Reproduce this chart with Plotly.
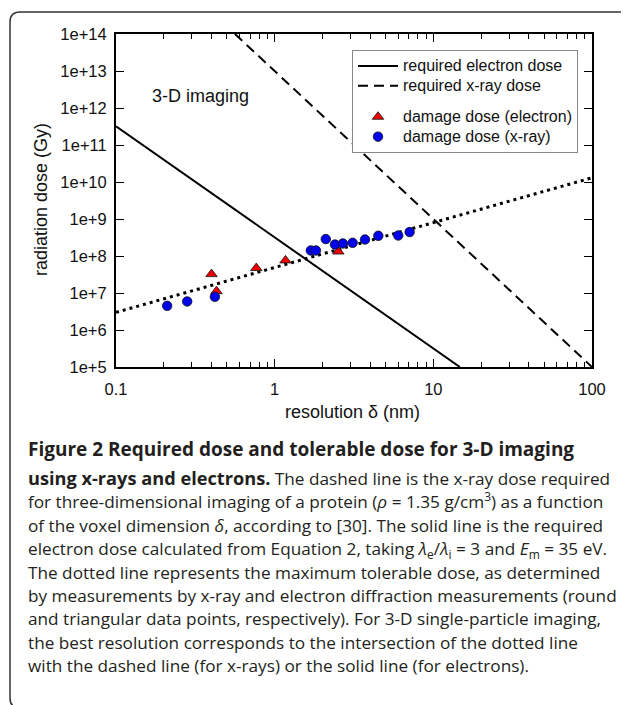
import plotly.graph_objects as go

# ---------------- data ----------------
electron_req_x = [0.1, 14.7]
electron_req_y = [3.2e11, 1e5]
xray_req_x = [0.562, 100]
xray_req_y = [1e14, 1e5]
tolerable_x = [0.1, 100]
tolerable_y = [3.0e6, 1.3e10]

electron_dmg_x = [0.40, 0.43, 0.766, 1.17, 2.52]
electron_dmg_y = [3.24e7, 1.12e7, 4.72e7, 7.6e7, 1.32e8]

xray_dmg_x = [0.21, 0.281, 0.42, 1.69, 1.82, 2.10, 2.40, 2.69, 3.10, 3.71, 4.50, 6.01, 7.09]
xray_dmg_y = [4.5e6, 5.9e6, 7.9e6, 1.41e8, 1.41e8, 2.86e8, 2.04e8, 2.18e8, 2.27e8, 2.79e8, 3.52e8, 3.58e8, 4.43e8]

y_tickvals = [1e5, 1e6, 1e7, 1e8, 1e9, 1e10, 1e11, 1e12, 1e13, 1e14]
y_ticktext = ["1e+5", "1e+6", "1e+7", "1e+8", "1e+9", "1e+10", "1e+11", "1e+12", "1e+13", "1e+14"]
x_tickvals = [0.1, 1, 10, 100]
x_ticktext = ["0.1", "1", "10", "100"]
x_minor = [k * 10.0 ** d for d in (-1, 0, 1) for k in range(2, 10)]

legend_names = ["required electron dose", "required x-ray dose",
                "damage dose (electron)", "damage dose (x-ray)"]

caption_title = "Figure 2 Required dose and tolerable dose for 3-D imaging"
caption_lines = [
    "<b><span style='font-size:18.2px'>using x-rays and electrons.</span></b> The dashed line is the x-ray dose required",
    "for three-dimensional imaging of a protein (<i>ρ</i> = 1.35 g/cm<sup>3</sup>) as a function",
    "of the voxel dimension <i>δ</i>, according to [30]. The solid line is the required",
    "electron dose calculated from Equation 2, taking <i>λ</i><sub>e</sub>/<i>λ</i><sub>i</sub> = 3 and <i>E</i><sub>m</sub> = 35 eV.",
    "The dotted line represents the maximum tolerable dose, as determined",
    "by measurements by x-ray and electron diffraction measurements (round",
    "and triangular data points, respectively). For 3-D single-particle imaging,",
    "the best resolution corresponds to the intersection of the dotted line",
    "with the dashed line (for x-rays) or the solid line (for electrons).",
]

# ---------------- layout geometry (page pixels) ----------------
W, H = 629, 705
OFF = 8  # body margin of the html page
L, R, T, B = 116, 592, 34, 367
pw, ph = R - L, B - T


def px(x):
    return (x - L) / pw


def py(y):
    return (B - y) / ph


AX_FONT = "Liberation Sans, Arial, sans-serif"
CAP_FONT = "Open Sans, Noto Sans, sans-serif"


def lg(name):
    return f"<span style='font-size:16px'>{name}</span>"


fig = go.Figure()

fig.add_trace(go.Scatter(
    x=electron_req_x, y=electron_req_y, mode="lines",
    line=dict(color="black", width=2),
    name=lg(legend_names[0]), legendgroup="req", legendrank=1,
))
fig.add_trace(go.Scatter(
    x=xray_req_x, y=xray_req_y, mode="lines",
    line=dict(color="black", width=2, dash="10px,6px"),
    name=lg(legend_names[1]), legendgroup="req", legendrank=2,
))
fig.add_trace(go.Scatter(
    x=tolerable_x, y=tolerable_y, mode="lines",
    line=dict(color="black", width=3, dash="3px,4px"),
    name="tolerable dose", showlegend=False,
))
fig.add_trace(go.Scatter(
    x=electron_dmg_x, y=electron_dmg_y, mode="markers",
    marker=dict(symbol="triangle-up", size=10, color="#ee0000",
                line=dict(color="#111", width=0.8)),
    name=lg(legend_names[2]), legendgroup="dmg", legendrank=3,
))
fig.add_trace(go.Scatter(
    x=xray_dmg_x, y=xray_dmg_y, mode="markers",
    marker=dict(symbol="circle", size=9.5, color="#0000ee",
                line=dict(color="#111", width=0.8)),
    name=lg(legend_names[3]), legendgroup="dmg", legendrank=4,
))

annotations = [
    dict(text="3-D imaging", x=px(150), y=py(96), xref="paper", yref="paper",
         xanchor="left", yanchor="middle", showarrow=False,
         font=dict(family=AX_FONT, size=18, color="#111")),
    dict(text="radiation dose (Gy)", x=px(41), y=py(200), xref="paper", yref="paper",
         xanchor="center", yanchor="middle", showarrow=False, textangle=-90,
         font=dict(family=AX_FONT, size=18, color="#111")),
    dict(text="resolution δ (nm)", x=px(352), y=py(412), xref="paper", yref="paper",
         xanchor="center", yanchor="middle", showarrow=False,
         font=dict(family=AX_FONT, size=18, color="#111")),
    dict(text=f"<b>{caption_title}</b>", x=px(26), y=py(449),
         xref="paper", yref="paper", xanchor="left", yanchor="middle",
         showarrow=False, align="left",
         font=dict(family=CAP_FONT, size=19, color="#231f20")),
    dict(text="<br>".join(f"<span style='font-size:17.2px'>{s}</span>" for s in caption_lines),
         x=px(26), y=py(571), xref="paper", yref="paper",
         xanchor="left", yanchor="middle", showarrow=False, align="left",
         font=dict(family=CAP_FONT, size=18, color="#231f20")),
]

# rounded frame around the figure (extends past right/bottom edges)
fx0, fy0, fx1, fy1 = 10, 12, 630, 708
r = 10
frame_path = (
    f"M {px(fx0)},{py(fy1 - r)} "
    f"L {px(fx0)},{py(fy0 + r)} "
    f"Q {px(fx0)},{py(fy0)} {px(fx0 + r)},{py(fy0)} "
    f"L {px(fx1 - r)},{py(fy0)} "
    f"Q {px(fx1)},{py(fy0)} {px(fx1)},{py(fy0 + r)} "
    f"L {px(fx1)},{py(fy1 - r)} "
    f"Q {px(fx1)},{py(fy1)} {px(fx1 - r)},{py(fy1)} "
    f"L {px(fx0 + r)},{py(fy1)} "
    f"Q {px(fx0)},{py(fy1)} {px(fx0)},{py(fy1 - r)} Z"
)

fig.update_layout(
    width=W, height=H,
    margin=dict(l=L - OFF, r=W - (R - OFF), t=T - OFF, b=H - (B - OFF), autoexpand=False),
    paper_bgcolor="white", plot_bgcolor="white",
    showlegend=True,
    legend=dict(
        x=px(352), y=py(50), xanchor="left", yanchor="top",
        bgcolor="white", bordercolor="#888", borderwidth=1,
        font=dict(family=AX_FONT, size=13, color="#111"),
        traceorder="grouped", tracegroupgap=11, itemwidth=40,
        entrywidth=180, entrywidthmode="pixels",
    ),
    annotations=annotations,
    shapes=[dict(type="path", path=frame_path, xref="paper", yref="paper",
                 line=dict(color="#333", width=1.5), fillcolor="rgba(0,0,0,0)",
                 layer="below")],
)

fig.update_xaxes(
    type="log", range=[-1, 2],
    tickvals=x_tickvals, ticktext=x_ticktext,
    ticks="inside", ticklen=8, tickwidth=1.2, tickcolor="black",
    showline=True, linecolor="black", linewidth=2, mirror="allticks",
    showgrid=False, zeroline=False,
    ticklabelstandoff=6,
    tickfont=dict(family=AX_FONT, size=16.5, color="#111"),
    minor=dict(tickvals=x_minor, ticks="inside", ticklen=5, tickwidth=1.2,
               tickcolor="black", showgrid=False),
)
fig.update_yaxes(
    type="log", range=[5, 14],
    tickvals=y_tickvals, ticktext=y_ticktext,
    ticks="inside", ticklen=8, tickwidth=1.2, tickcolor="black",
    showline=True, linecolor="black", linewidth=2, mirror="allticks",
    showgrid=False, zeroline=False,
    ticklabelstandoff=4,
    tickfont=dict(family=AX_FONT, size=16.5, color="#111"),
)

fig.write_html("out.html")
